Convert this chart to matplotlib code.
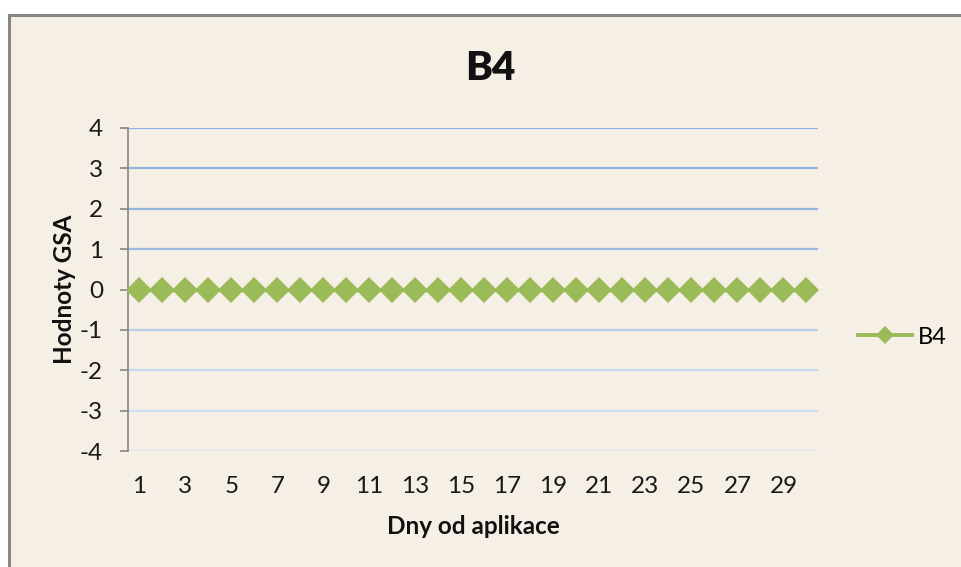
import matplotlib
matplotlib.use("Agg")
import matplotlib.pyplot as plt
from matplotlib.patches import Rectangle
from matplotlib.lines import Line2D

# Data
days = list(range(1, 31))
gsa_values = [0] * 30
x_tick_labels = [str(d) for d in range(1, 31, 2)]
y_ticks = [4, 3, 2, 1, 0, -1, -2, -3, -4]
series_name = "B4"
chart_title = "B4"
x_label = "Dny od aplikace"
y_label = "Hodnoty GSA"

plt.rcParams['font.family'] = ['Lato', 'DejaVu Sans']

W, H = 962, 567
fig = plt.figure(figsize=(W / 100, H / 100), dpi=100, facecolor='white')

# Chart-area background with a grey frame on the visible edges
bg = Rectangle((9 / W, -0.1), 1.2, (H - 15) / H + 0.1, transform=fig.transFigure,
               facecolor='#F6EFE5', edgecolor='#878787', linewidth=2.2, zorder=-5)
fig.patches.append(bg)

ax = fig.add_axes([128 / W, (H - 451) / H, (818 - 128) / W, (451 - 128) / H])
ax.set_zorder(2)
ax.set_facecolor('none')

ax.set_xlim(0.5, 30.5)
ax.set_ylim(-4, 4)

# Horizontal gridlines, fading in the lower half
grid_colors = {4: '#8FB0E0', 3: '#92B2E0', 2: '#95B5E2', 1: '#9AB8E3', 0: '#A6C0E6',
               -1: '#BACFEE', -2: '#C6D7F0', -3: '#D0DEF2', -4: '#DAE4F4'}
for yv in y_ticks:
    ax.axhline(yv, color=grid_colors[yv], linewidth=1.6, zorder=1)

ax.plot(days, gsa_values, color='#9BBB59', linewidth=2.4, marker='D',
        markersize=13.5, markeredgewidth=0, zorder=3, clip_on=False)

for side in ['top', 'right', 'bottom']:
    ax.spines[side].set_visible(False)
ax.spines['left'].set_color('#868686')
ax.spines['left'].set_linewidth(1.2)

ax.set_yticks(y_ticks)
ax.set_yticklabels([str(v) for v in y_ticks])
ax.set_xticks(list(range(1, 31, 2)))
ax.set_xticklabels(x_tick_labels)
ax.tick_params(axis='y', direction='out', length=6, width=1.2, color='#868686',
               pad=12, labelsize=17.5, labelcolor='#1A1A1A')
ax.tick_params(axis='x', length=0, pad=18, labelsize=17.5, labelcolor='#1A1A1A')

ax.set_xlabel(x_label, fontsize=17.5, fontweight='bold', labelpad=13, color='#111111')
ax.set_ylabel(y_label, fontsize=17.5, fontweight='bold', labelpad=3, color='#111111')
fig.text(490 / W, 1 - 68 / H, chart_title, fontsize=29, fontweight='heavy',
         ha='center', va='center', color='#111111')

handle = Line2D([0], [0], color='#9BBB59', linewidth=2.8, marker='D', markersize=9.5,
                markeredgewidth=0)
fig.legend([handle], [series_name], loc='center left',
           bbox_to_anchor=(858 / W, 1 - 337 / H), frameon=False, fontsize=17,
           handlelength=2.3, handletextpad=0.25, borderaxespad=0, borderpad=0)

fig.savefig('out.png', dpi=100, facecolor='white')
